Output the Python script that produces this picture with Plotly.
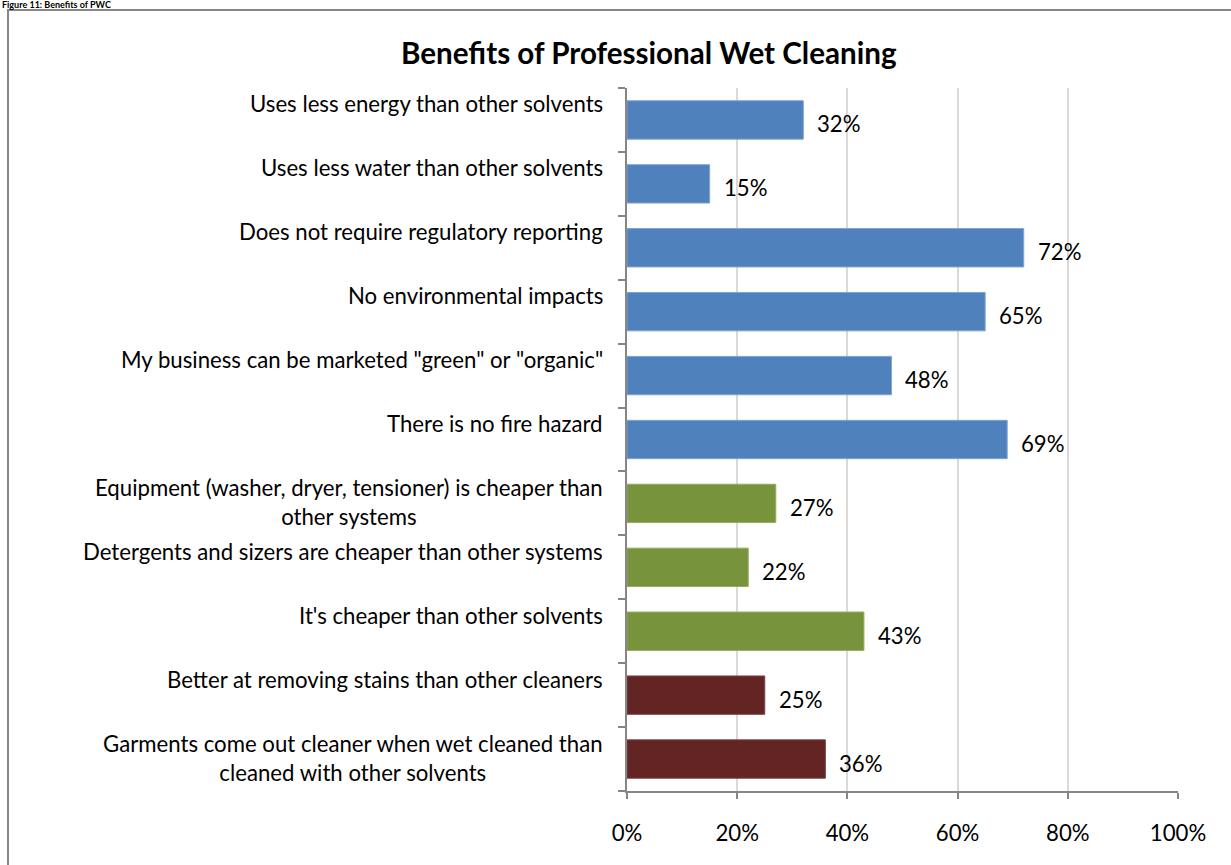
import plotly.graph_objects as go

categories = [
    "Uses less energy than other solvents",
    "Uses less water than other solvents",
    "Does not require regulatory reporting",
    "No environmental impacts",
    "My business can be marketed \"green\" or \"organic\"",
    "There is no fire hazard",
    "Equipment (washer, dryer, tensioner) is cheaper than<br>other systems",
    "Detergents and sizers are cheaper than other systems",
    "It's cheaper than other solvents",
    "Better at removing stains than other cleaners",
    "Garments come out cleaner when wet cleaned than<br>cleaned with other solvents",
]
values = [0.32, 0.15, 0.72, 0.65, 0.48, 0.69, 0.27, 0.22, 0.43, 0.25, 0.36]
value_labels = ["32%", "15%", "72%", "65%", "48%", "69%", "27%", "22%", "43%", "25%", "36%"]
groups = ["env", "env", "env", "env", "env", "env", "cost", "cost", "cost", "perf", "perf"]
group_colors = {"env": "#4F81BD", "cost": "#77933C", "perf": "#632523"}
edge_colors = {"env": "#7FA3D2", "cost": "#93AD5E", "perf": "#7E4442"}
x_tickvals = [0, 0.2, 0.4, 0.6, 0.8, 1.0]
x_ticktext = ["0%", "20%", "40%", "60%", "80%", "100%"]
title_text = "Benefits of Professional Wet Cleaning"
figure_caption = "Figure 11: Benefits of PWC"

FONT = "Lato, 'Liberation Sans', sans-serif"
FS = 22.2
pos = list(range(len(categories)))

# pixel geometry of plot area (window coords)
PL, PR, PT, PB = 627, 1178, 88, 791
W, H = 1231, 865
PW, PH = PR - PL, PB - PT

def px_x(px):
    return (px - PL) / PW

def px_y(py):
    return (PB - py) / PH

fig = go.Figure()
fig.add_trace(go.Bar(
    x=values, y=pos, orientation="h",
    marker=dict(color=[group_colors[g] for g in groups],
                line=dict(color=[edge_colors[g] for g in groups], width=1)),
    width=0.6, hoverinfo="skip",
))

annotations = []
for i, (cat, v, lab) in enumerate(zip(categories, values, value_labels)):
    annotations.append(dict(x=v, y=i, xref="x", yref="y", text=lab, showarrow=False,
                            xanchor="left", yanchor="middle", xshift=12, yshift=-4,
                            font=dict(family=FONT, size=FS, color="#000000")))
    two_line = "<br>" in cat
    annotations.append(dict(x=0, y=i, xref="paper", yref="y", text=cat, showarrow=False,
                            xanchor="right", yanchor="middle", align="center",
                            xshift=-22, yshift=(1 if two_line else 16),
                            font=dict(family=FONT, size=FS, color="#000000")))

annotations.append(dict(x=px_x(649), y=px_y(52), xref="paper", yref="paper",
                        text="<b>" + title_text + "</b>", showarrow=False,
                        xanchor="center", yanchor="middle",
                        font=dict(family=FONT, size=29.6, color="#000000")))
annotations.append(dict(x=px_x(0), y=px_y(-3), xref="paper", yref="paper",
                        text="<b>" + figure_caption + "</b>", showarrow=False,
                        xanchor="left", yanchor="top",
                        font=dict(family=FONT, size=9, color="#000000")))

fig.update_layout(
    width=W, height=H,
    margin=dict(l=PL, r=W - PR, t=PT, b=H - PB),
    paper_bgcolor="white", plot_bgcolor="white",
    showlegend=False,
    annotations=annotations,
    shapes=[dict(type="rect", xref="paper", yref="paper",
                 x0=px_x(8), x1=px_x(W + 20), y0=px_y(H + 20), y1=px_y(10),
                 line=dict(color="#878787", width=2), layer="below")],
    xaxis=dict(range=[0, 1.0], tickvals=x_tickvals, ticktext=x_ticktext,
               showgrid=True, gridcolor="#D9D9D9", gridwidth=1.5,
               showline=True, linecolor="#868686", linewidth=2,
               ticks="outside", ticklen=6, tickcolor="#868686", tickwidth=2,
               ticklabelstandoff=15,
               tickfont=dict(family=FONT, size=FS, color="#000000"),
               zeroline=False, fixedrange=True),
    yaxis=dict(range=[10.5, -0.5], tickvals=[i - 0.5 for i in range(len(categories) + 1)],
               ticktext=["" for _ in range(len(categories) + 1)],
               showgrid=False, showline=True, linecolor="#868686", linewidth=2,
               ticks="outside", ticklen=7, tickcolor="#868686", tickwidth=2,
               zeroline=False, fixedrange=True),
)

fig.write_html("out.html", config={"displayModeBar": False},
               post_script="document.body.style.margin='0';document.body.style.overflow='hidden';")
